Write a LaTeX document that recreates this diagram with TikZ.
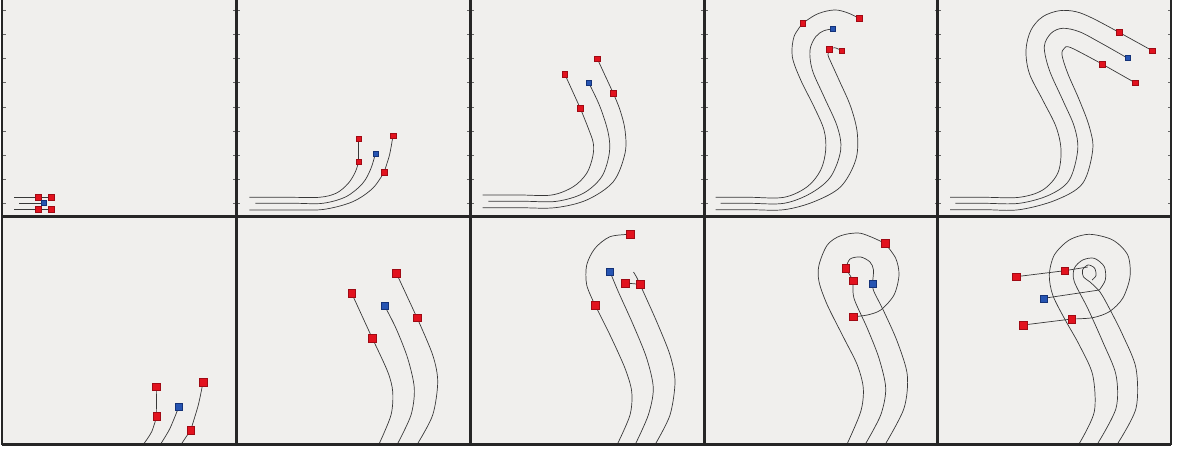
\documentclass[tikz,border=0pt]{standalone}
\definecolor{mkred}{RGB}{226,18,30}
\definecolor{mkredd}{RGB}{160,10,20}
\definecolor{mkblue}{RGB}{38,84,178}
\definecolor{mkblued}{RGB}{20,50,120}
\definecolor{panelbg}{RGB}{240,239,237}
\begin{document}
\begin{tikzpicture}[x=1pt,y=-1pt,
  curve/.style={draw=black!78,line width=0.7pt},
  link/.style={draw=black!78,line width=0.7pt},
  rsq/.style={rectangle,fill=mkred,draw=mkredd,line width=0.3pt,minimum size=5.5pt,inner sep=0pt},
  bsq/.style={rectangle,fill=mkblue,draw=mkblued,line width=0.3pt,minimum size=5pt,inner sep=0pt},
  rbig/.style={rsq,minimum size=7.5pt},
  bbig/.style={bsq,minimum size=7pt},
  frame/.style={draw=black!85,line width=2.5pt},
  tick/.style={draw=black!60,line width=0.6pt}]
\useasboundingbox (0,0) rectangle (1183,450);
\fill[white] (0,0) rectangle (1183,450);
\fill[panelbg] (2,0) rectangle (1171,445);
% ticks
\foreach \px in {2,236.5,470.5,704.5,937.5}{
  \foreach \ty in {10,34,58,82,107,131,155,179,203}{
    \draw[tick] (\px+1.2,\ty) -- ++(2.5,0);
    \draw[tick] (\px+233,\ty) -- ++(-2.5,0);
  }
}
% ---------- Panel 1 ----------
\coordinate (p1a) at (38,197); \coordinate (p1b) at (51,197);
\coordinate (p1c) at (38,209); \coordinate (p1d) at (51,209);
\coordinate (p1m) at (44,203);
\draw[curve] (14,197) -- (p1a); \draw[curve] (19,203) -- (p1m); \draw[curve] (14,209) -- (p1c);
\draw[link] (p1a) -- (p1b); \draw[link] (p1c) -- (p1d);
% ---------- Panel 2 ----------
\coordinate (p2a) at (358.7,161.7); \coordinate (p2b) at (358.7,138.7);
\coordinate (p2m) at (375.3,153.7);
\coordinate (p2c) at (384,172.3); \coordinate (p2d) at (393,135.7);
\draw[curve] plot[smooth,tension=0.55] coordinates {(249.3,197.3) (290,197.3) (319.3,197.3) (336,193.3) (347.7,184) (355,172.7) (p2a)};
\draw[curve] plot[smooth,tension=0.55] coordinates {(255.3,203.3) (295,203.3) (322.7,203.3) (346,196.7) (362.7,183.3) (371,168.3) (p2m)};
\draw[curve] plot[smooth,tension=0.55] coordinates {(249.3,210) (295,210) (324.3,209.3) (352.7,201.7) (372.7,188.3) (p2c)};
\draw[link] (p2a) -- (p2b);
\draw[link] plot[smooth] coordinates {(p2c) (389.5,155) (p2d)};
% ---------- Panel 3 ----------
\coordinate (p3a) at (580.3,108.3); \coordinate (p3b) at (564.7,74);
\coordinate (p3m) at (588.7,82.7);
\coordinate (p3c) at (613.3,93.3); \coordinate (p3d) at (597.3,58.7);
\draw[curve] plot[smooth,tension=0.55] coordinates {(482.7,195) (520,195) (551.7,195) (573.3,186.7) (586.7,173.3) (592.7,156.7) (593.3,143.3) (588.3,128.3) (p3a)};
\draw[curve] plot[smooth,tension=0.55] coordinates {(488.3,201.3) (525,201.3) (556.7,201.3) (583.3,193.3) (601.7,176.7) (609.3,153.3) (608.3,133.3) (600,106.7) (p3m)};
\draw[curve] plot[smooth,tension=0.55] coordinates {(482.7,207.7) (520,207.7) (555,207.7) (586.7,200) (613.3,181.7) (625,153.3) (625,130) (620,110) (p3c)};
\draw[link] (p3a) -- (p3b); \draw[link] (p3c) -- (p3d);
% ---------- Panel 4 ----------
\coordinate (p4a) at (802.7,23.3); \coordinate (p4b) at (859,18.3);
\coordinate (p4m) at (833,29);
\coordinate (p4c) at (829,49); \coordinate (p4d) at (841.7,50.7);
\draw[curve] plot[smooth,tension=0.55] coordinates {(715.7,197.3) (750,197.3) (784,197.3) (807.3,186.7) (820.7,170) (825.7,150) (824,130) (814,106.7) (800.7,80) (792.3,56.7) (794,36.7) (p4a)};
\draw[link] plot[smooth,tension=0.6] coordinates {(p4a) (817.3,14) (834,10) (847.3,12.7) (p4b)};
\draw[curve] plot[smooth,tension=0.55] coordinates {(720.7,203.3) (750,203.3) (784,203.3) (810.7,193.3) (830.7,176.7) (840.7,150) (837.3,126.7) (824,96.7) (812.3,70) (810,50) (815.7,36.7) (824,30.7) (p4m)};
\draw[curve] plot[smooth,tension=0.55] coordinates {(715.7,209.7) (750,209.7) (784,209.7) (814,201.7) (840.7,186.7) (855.7,160) (857.3,133.3) (850.7,106.7) (839,80) (830.7,61.7) (828,55) (p4c)};
\draw[link] plot[smooth] coordinates {(p4c) (835,47.8) (p4d)};
% ---------- Panel 5 ----------
\coordinate (p5a) at (1119,32.3); \coordinate (p5b) at (1152.3,50.7);
\coordinate (p5m) at (1127.3,58);
\coordinate (p5c) at (1102,64); \coordinate (p5d) at (1135,82.7);
\draw[curve] plot[smooth,tension=0.55] coordinates {(950,197.3) (985,197.3) (1019.3,197.3) (1042.7,190) (1057.7,173.3) (1061,150) (1056,126.7) (1042.7,100) (1029.3,73.3) (1026,50) (1031,30) (1042.7,16.7) (1059.3,10.7) (1076,11.7) (1092.7,18.3) (p5a)};
\draw[curve] plot[smooth,tension=0.55] coordinates {(955.3,203.3) (985,203.3) (1019.3,203.3) (1049.3,195) (1069.3,180) (1077.7,150) (1074.3,126.7) (1062.7,100) (1049.3,70) (1044.3,46.7) (1051,33.3) (1062.7,28.3) (1079.3,31.7) (1100,42.5) (p5m)};
\draw[curve] plot[smooth,tension=0.55] coordinates {(950,209.7) (985,209.7) (1019.3,209.7) (1056,200) (1082.7,183.3) (1092.7,150) (1089.3,126.7) (1079.3,100) (1067.7,73.3) (1062,55) (1064.3,48.3) (1071,47.7) (p5c)};
\draw[link] (p5a) -- (p5b); \draw[link] (p5c) -- (p5d);
% ---------- Panel 6 ----------
\coordinate (p6a) at (156.7,416.3); \coordinate (p6b) at (156.3,386.7);
\coordinate (p6m) at (179,406.3);
\coordinate (p6c) at (190.7,430); \coordinate (p6d) at (203,382.3);
\draw[curve] plot[smooth] coordinates {(144,443.5) (151.7,431.7) (p6a)};
\draw[curve] plot[smooth] coordinates {(161,443.5) (170,428.3) (p6m)};
\draw[curve] (181.7,443.5) -- (p6c);
\draw[link] (p6a) -- (p6b);
\draw[link] plot[smooth] coordinates {(p6c) (198.3,405) (p6d)};
% ---------- Panel 7 ----------
\coordinate (p7a) at (372.3,338.3); \coordinate (p7b) at (351.7,293.3);
\coordinate (p7m) at (384.3,305.3);
\coordinate (p7c) at (417,317.7); \coordinate (p7d) at (396.3,273);
\draw[curve] plot[smooth] coordinates {(379.3,443.5) (391,415) (392.7,391.7) (387.7,371.7) (p7a)};
\draw[curve] plot[smooth] coordinates {(397.7,443.5) (411,415) (414.3,388.3) (407.7,358.3) (396,328.3) (p7m)};
\draw[curve] plot[smooth] coordinates {(417.7,443.5) (432.7,415) (437.7,381.7) (432.7,355) (p7c)};
\draw[link] (p7a) -- (p7b); \draw[link] (p7c) -- (p7d);
% ---------- Panel 8 ----------
\coordinate (p8a) at (595,305); \coordinate (p8b) at (630.3,234.3);
\coordinate (p8m) at (610,271.7);
\coordinate (p8c) at (640,284.3); \coordinate (p8d) at (625.3,283);
\draw[curve] plot[smooth] coordinates {(617.7,443.5) (630,415) (631.7,391.7) (625,368.3) (610,335) (p8a)};
\draw[link] plot[smooth] coordinates {(p8a) (586.7,285) (586.7,265) (595,248.3) (610,236.7) (p8b)};
\draw[curve] plot[smooth] coordinates {(635.7,443.5) (648.3,415) (653.3,388.3) (646.7,358.3) (633.3,325) (618.3,291.7) (p8m)};
\draw[curve] plot[smooth] coordinates {(655.7,443.5) (670,415) (675,381.7) (670,355) (656.7,321.7) (643.3,291.7) (p8c)};
\draw[link] plot[smooth] coordinates {(p8c) (636.5,277) (633.5,272)};
\draw[link] (p8c) -- (p8d);
% ---------- Panel 9 ----------
\coordinate (p9a) at (885,243.3); \coordinate (p9b) at (853.3,316.7);
\coordinate (p9m) at (872.3,284);
\coordinate (p9c) at (853.3,280.7); \coordinate (p9d) at (845.7,268.3);
\draw[curve] plot[smooth] coordinates {(847.3,443.5) (860.7,411.7) (863.3,388.3) (857.3,365) (844,338.3) (827.3,305) (819,281.7) (819,265) (827.3,245) (840.7,235.7) (860.7,233.3) (p9a)};
\draw[link] plot[smooth] coordinates {(p9a) (895.7,258.3) (899,275) (894,295) (880.7,310) (867.3,315) (p9b)};
\draw[curve] plot[smooth] coordinates {(865.7,443.5) (880.7,415) (885.7,388.3) (879,358.3) (867.3,328.3) (854,298.3) (p9c)};
\draw[curve] plot[smooth] coordinates {(885.7,443.5) (904,408.3) (907.3,375) (897.3,341.7) (884,311.7) (874,291.7) (p9m)};
\draw[link] plot[smooth] coordinates {(p9d) (850,259) (860.7,257) (870,262) (873.5,270) (p9m)};
\draw[link] (p9c) -- (p9d);
% ---------- Panel 10 ----------
\coordinate (p10a) at (1016,276.7); \coordinate (p10b) at (1064.7,270.7);
\coordinate (p10m) at (1043.7,298.3);
\coordinate (p10c) at (1023.3,325); \coordinate (p10d) at (1071.7,319);
\coordinate (p10e) at (1099.3,290); \coordinate (p10f) at (1087.7,267);
\draw[curve] plot[smooth] coordinates {(1079.3,443.5) (1094.3,411.7) (1092.7,375) (1079.3,345) (1064.3,318.3) (1052.7,295) (1049.3,275) (1054.3,255) (1069.3,240) (1089.3,234.3) (1112.7,240) (1127.7,255) (1130,276.7) (1122.7,298.3) (1109.3,311.7) (1092.7,317.7) (p10d)};
\draw[curve] plot[smooth] coordinates {(1097.7,443.5) (1116,408.3) (1116,375) (1102.7,341.7) (1087.7,308.3) (1074.3,281.7) (1074.3,268.3) (1082.7,260) (1094.3,258.3) (1104.3,266.7) (1105.3,280) (p10e)};
\draw[link] (p10e) -- (p10m);
\draw[curve] plot[smooth] coordinates {(1117.7,443.5) (1136,408.3) (1136,368.3) (1122.7,335) (1109.3,308.3) (1100,292) (1090,282) (1083.5,277) (1082.5,270) (1088,265) (1094.5,268) (1096,275.5) (1092,280)};
\draw[link] (p10a) -- (p10b) -- (p10f);
\draw[link] (p10c) -- (p10d);
% ---------- frame ----------
\foreach \px in {2,236.5,470.5,704.5,937.5,1171}{ \draw[frame] (\px,0) -- (\px,445); }
\draw[frame] (2,216.5) -- (1171,216.5);
\draw[frame] (2,444.5) -- (1171,444.5);
% ---------- markers ----------
\foreach \n in {p1a,p1b,p1c,p1d,p2a,p2b,p2c,p2d,p3a,p3b,p3c,p3d,p4a,p4b,p4c,p4d,p5a,p5b,p5c,p5d}{ \node[rsq] (m\n) at (\n) {}; }
\foreach \n in {p1m,p2m,p3m,p4m,p5m}{ \node[bsq] (m\n) at (\n) {}; }
\foreach \n in {p6a,p6b,p6c,p6d,p7a,p7b,p7c,p7d,p8a,p8b,p8c,p8d,p9a,p9b,p9c,p9d,p10a,p10b,p10c,p10d}{ \node[rbig] (m\n) at (\n) {}; }
\foreach \n in {p6m,p7m,p8m,p9m,p10m}{ \node[bbig] (m\n) at (\n) {}; }
\end{tikzpicture}
\end{document}
